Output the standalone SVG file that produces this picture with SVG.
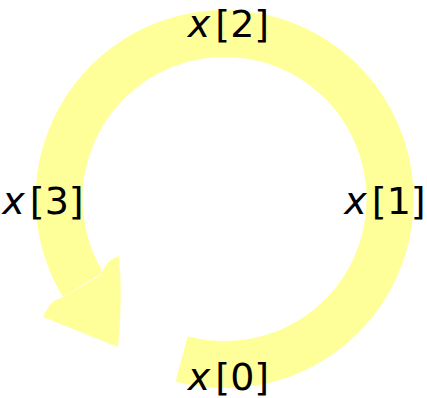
<svg xmlns="http://www.w3.org/2000/svg" width="427" height="398" viewBox="0 0 427 398">
<style>
.lbl{font-family:"DejaVu Sans",sans-serif;font-size:38px;fill:#000;text-anchor:middle}
.it{font-style:italic}
.ring{fill:none;stroke:#ffff99;stroke-width:47}
.head{fill:#ffff99;stroke:none}
</style>
<rect width="427" height="398" fill="#fff"/>
<g id="connectors">
<path class="ring" d="M181.67,358.86 A165.5,165.5 0 1 0 83,284.7"/>
<path class="head" d="M43,317 L118,347 Q123,300 119,256 Q106,260 101,275 L61,298 Q50,300 43,317 Z"/>
</g>
<g id="node-x2"><text class="lbl" x="228.5" y="37"><tspan class="it">x</tspan><tspan dx="5">[2]</tspan></text></g>
<g id="node-x3"><text class="lbl" x="43" y="214"><tspan class="it">x</tspan><tspan dx="5">[3]</tspan></text></g>
<g id="node-x1"><text class="lbl" x="385" y="214"><tspan class="it">x</tspan><tspan dx="5">[1]</tspan></text></g>
<g id="node-x0"><text class="lbl" x="228.5" y="390"><tspan class="it">x</tspan><tspan dx="5">[0]</tspan></text></g>
</svg>
